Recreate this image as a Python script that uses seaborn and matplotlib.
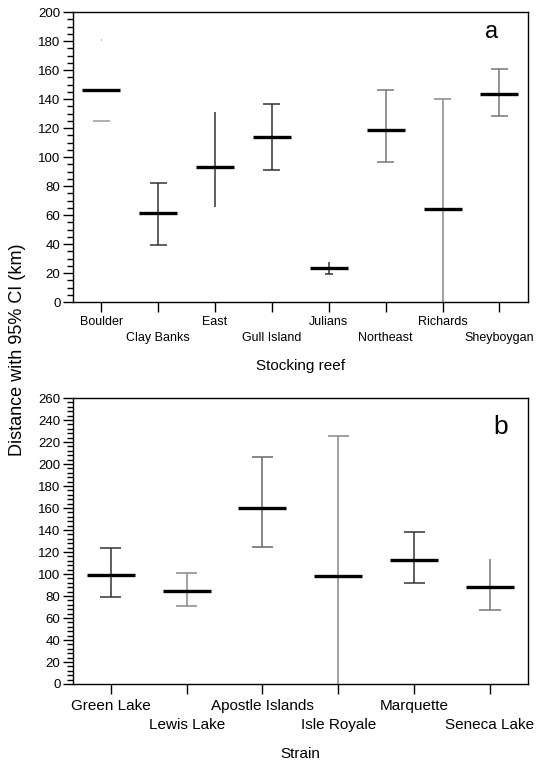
import numpy as np
import pandas as pd
import matplotlib
matplotlib.use('Agg')
import matplotlib.pyplot as plt
from matplotlib.ticker import MultipleLocator
import seaborn as sns

# Panel a: stocking reef
reefs = ['Boulder', 'Clay Banks', 'East', 'Gull Island', 'Julians',
         'Northeast', 'Richards', 'Sheyboygan']
reef_mean = [146, 61.6, 93.3, 113.6, 23.7, 118.6, 63.9, 143.7]
reef_lo = [125, 39, 65.7, 90.8, 19.3, 96.3, 0, 128.5]
reef_hi = [181, 82, 131, 136.8, 27.8, 146, 139.8, 160.7]

# Panel b: strain
strains = ['Green Lake', 'Lewis Lake', 'Apostle Islands', 'Isle Royale',
           'Marquette', 'Seneca Lake']
strain_mean = [98.7, 84.8, 160, 98.5, 112.7, 87.8]
strain_lo = [79, 71.2, 124.8, 0, 91.8, 67.3]
strain_hi = [123.6, 100.9, 206, 225.4, 138.5, 113.6]

# styling per bar: stem colour, cap colour, cap half-widths (low, high)
reef_col = ['#ffffff', '#333333', '#333333', '#333333', '#333333',
            '#777777', '#888888', '#777777']
reef_capcol = ['#999999', '#333333', '#333333', '#333333', '#333333',
               '#777777', '#888888', '#777777']
reef_caps = [(0.15, 0.012), (0.15, 0.15), (0, 0), (0.15, 0.15),
             (0.07, 0.0), (0.15, 0.15), (0, 0.15), (0.15, 0.15)]
strain_col = ['#333333', '#888888', '#666666', '#888888', '#333333', '#777777']
strain_caps = [(0.14, 0.14), (0.14, 0.14), (0.14, 0.14), (0, 0.14),
               (0.14, 0.14), (0.14, 0)]

sns.set_style('ticks')
plt.rcParams['font.family'] = ['Liberation Sans', 'DejaVu Sans']
plt.rcParams['text.color'] = 'black'
plt.rcParams['axes.labelcolor'] = 'black'
plt.rcParams['xtick.color'] = 'black'
plt.rcParams['ytick.color'] = 'black'

fig = plt.figure(figsize=(5.4, 7.6), dpi=100)
ax_a = fig.add_axes([0.135, 0.6026, 0.8426, 0.3816])
ax_b = fig.add_axes([0.135, 0.1, 0.8426, 0.3763])


def draw_panel(ax, names, mean, lo, hi, cols, capcols, caps, mean_s,
               fsize, pad, stagger):
    pos = np.arange(len(names))
    df = pd.DataFrame({'pos': pos, 'mean': mean, 'lo': lo, 'hi': hi})
    # CI stems and caps
    for i, r in df.iterrows():
        ax.vlines(r['pos'], r['lo'], r['hi'], color=cols[i], lw=1.1, zorder=2)
        lo_w, hi_w = caps[i]
        if lo_w > 0:
            ax.hlines(r['lo'], r['pos'] - lo_w, r['pos'] + lo_w,
                      color=capcols[i], lw=1.1, zorder=2)
        if hi_w > 0:
            ax.hlines(r['hi'], r['pos'] - hi_w, r['pos'] + hi_w,
                      color=capcols[i], lw=1.1, zorder=2)
    # means as thick horizontal markers
    sns.scatterplot(data=df, x='pos', y='mean', marker='_', s=mean_s,
                    color='black', linewidth=2.4, ax=ax, zorder=3,
                    legend=False)
    ax.set_xlim(-0.5, len(names) - 0.5)
    # even labels on the first row (major ticks), odd ones a row lower (minor)
    ax.set_xticks(pos[::2])
    ax.set_xticklabels(names[::2])
    ax.set_xticks(pos[1::2], minor=True)
    ax.set_xticklabels(names[1::2], minor=True)
    for s in ax.spines.values():
        s.set_visible(True)
        s.set_linewidth(1.0)
        s.set_color('black')
    ax.tick_params(axis='both', which='major', length=7, width=1,
                   color='black', direction='out')
    ax.tick_params(axis='x', which='major', labelsize=fsize, pad=pad)
    ax.tick_params(axis='x', which='minor', length=7, width=1,
                   labelsize=fsize, pad=pad + stagger, direction='out')
    ax.tick_params(axis='y', which='minor', length=4, width=1,
                   color='black', direction='out')
    ax.tick_params(axis='y', labelsize=9.5, pad=2)
    ax.set_ylabel('')


draw_panel(ax_a, reefs, reef_mean, reef_lo, reef_hi, reef_col, reef_capcol,
           reef_caps, 720, 9, 3, 11.5)
ax_a.set_ylim(0, 200)
ax_a.yaxis.set_major_locator(MultipleLocator(20))
ax_a.yaxis.set_minor_locator(MultipleLocator(5))
ax_a.set_xlabel('Stocking reef', fontsize=11, labelpad=11)
ax_a.text(0.92, 0.93, 'a', transform=ax_a.transAxes, fontsize=17,
          ha='center', va='center')

draw_panel(ax_b, strains, strain_mean, strain_lo, strain_hi, strain_col,
           strain_col, strain_caps, 1150, 11, 4, 13.5)
ax_b.set_ylim(0, 260)
ax_b.yaxis.set_major_locator(MultipleLocator(20))
ax_b.yaxis.set_minor_locator(MultipleLocator(4))
ax_b.set_xlabel('Strain', fontsize=11, labelpad=11)
ax_b.text(0.94, 0.9, 'b', transform=ax_b.transAxes, fontsize=19,
          ha='center', va='center')

fig.text(0.032, 0.54, 'Distance with 95% CI (km)', rotation=90,
         fontsize=13, ha='center', va='center')

fig.savefig('out.png', dpi=100)
plt.close(fig)
